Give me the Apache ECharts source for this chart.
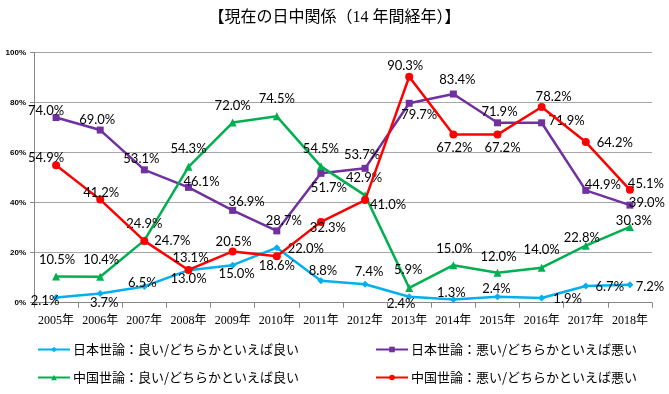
<!DOCTYPE html>
<html><head><meta charset="utf-8">
<script src="https://cdn.jsdelivr.net/npm/echarts@6/dist/echarts.min.js"></script>
<style>html,body{margin:0;padding:0;background:#fff}#c{width:669px;height:394px}</style>
</head><body><div id="c"></div>
<script>
const title = '【現在の日中関係（14 年間経年）】';
const years = ['2005年','2006年','2007年','2008年','2009年','2010年','2011年','2012年','2013年','2014年','2015年','2016年','2017年','2018年'];
const yTicks = [0, 20, 40, 60, 80, 100];
const seriesNames = ['日本世論：良い/どちらかといえば良い','日本世論：悪い/どちらかといえば悪い','中国世論：良い/どちらかといえば良い','中国世論：悪い/どちらかといえば悪い'];
const jpGood = [2.1, 3.7, 6.5, 13.0, 15.0, 22.0, 8.8, 7.4, 2.4, 1.3, 2.4, 1.9, 6.7, 7.2];
const jpBad  = [74.0, 69.0, 53.1, 46.1, 36.9, 28.7, 51.7, 53.7, 79.7, 83.4, 71.9, 71.9, 44.9, 39.0];
const cnGood = [10.5, 10.4, 24.9, 54.3, 72.0, 74.5, 54.5, 42.9, 5.9, 15.0, 12.0, 14.0, 22.8, 30.3];
const cnBad  = [54.9, 41.2, 24.7, 13.1, 20.5, 18.6, 32.3, 41.0, 90.3, 67.2, 67.2, 78.2, 64.2, 45.1];

// label offsets (style only)
const offJpGood = [[-11,3],[4,9],[-2,-4],[0,9],[4,9],[29,1],[2,-10],[4,-12],[-8,7],[-2,-7],[-1,-8],[26,1],[24,1],[20,2]];
const offJpBad  = [[-10,-7],[-3,-10],[-3,-11],[13,-6],[14,-9],[7,-10],[8,14],[-3,-14],[10,12],[4,-14],[2,-11],[25,-2],[17,-6],[17,-2]];
const offCnGood = [[1,-17],[1,-17],[0,-17],[0,-18],[0,-17],[0,-17],[0,-18],[-1,-18],[-1,-18],[1,-16],[1,-16],[0,-18],[-4,-8],[4,-6]];
const offCnBad  = [[-10,-8],[1,-7],[28,0],[2,-12],[1,-10],[0,10],[7,6],[23,5],[-4,-11],[1,13],[5,13],[12,-10],[29,1],[16,-6]];

const colors = ['#00B0F0','#7030A0','#00B050','#FF0000'];
const symbols = ['diamond','rect','triangle','circle'];
const symSizes = [7,7,8,8];
const allData = [jpGood, jpBad, cnGood, cnBad];
const allOff = [offJpGood, offJpBad, offCnGood, offCnBad];

function mk(i){
  return {
    name: seriesNames[i], type:'line', data: allData[i].map((v,j)=>({
      value:v, label:{offset: allOff[i][j]}
    })),
    color: colors[i], symbol: symbols[i], symbolSize: symSizes[i],
    lineStyle:{width:2.5, color:colors[i]}, itemStyle:{color:colors[i]},
    label:{show:true, position:'inside', formatter: p=>p.value.toFixed(1)+'%', color:'#000',
      fontFamily:'Lato', fontSize:13},
    z: 3+i, animation:false
  };
}
const legendText = {fontFamily:'Noto Sans CJK JP', fontSize:13, color:'#000', padding:[0,0,0,-2]};
const chart = echarts.init(document.getElementById('c'));
chart.setOption({
  animation:false,
  title:{text:title, left:'center', top:5, textStyle:{fontFamily:'Liberation Serif, Noto Sans CJK JP', fontSize:16, fontWeight:'normal', color:'#000'}},
  grid:{left:34, right:17, top:52.5, bottom:91.3, containLabel:false},
  xAxis:{type:'category', data:years, boundaryGap:true,
    axisLine:{lineStyle:{color:'#868686', width:1}},
    axisTick:{show:true, length:5, alignWithLabel:false, lineStyle:{color:'#868686'}},
    axisLabel:{fontFamily:'Liberation Serif, Noto Sans CJK JP', fontSize:12, color:'#000', margin:12, interval:0}},
  yAxis:{type:'value', min:yTicks[0], max:yTicks[yTicks.length-1], interval:20,
    axisLine:{show:true, lineStyle:{color:'#868686'}},
    axisTick:{show:true, length:4, inside:false, lineStyle:{color:'#868686'}},
    axisLabel:{formatter:'{value}%', fontFamily:'Liberation Sans', fontSize:8, fontWeight:'bold', color:'#000', margin:8},
    splitLine:{lineStyle:{color:'#A6A6A6', width:1}}},
  legend:[
    {data:[seriesNames[0], seriesNames[2]], orient:'vertical', left:37, top:343, itemWidth:32, itemHeight:7, itemGap:15, padding:0,
      textStyle:legendText},
    {data:[seriesNames[1], seriesNames[3]], orient:'vertical', left:375, top:343, itemWidth:32, itemHeight:7, itemGap:15, padding:0,
      textStyle:legendText}
  ],
  series:[mk(0), mk(1), mk(2), mk(3)]
});
</script></body></html>
